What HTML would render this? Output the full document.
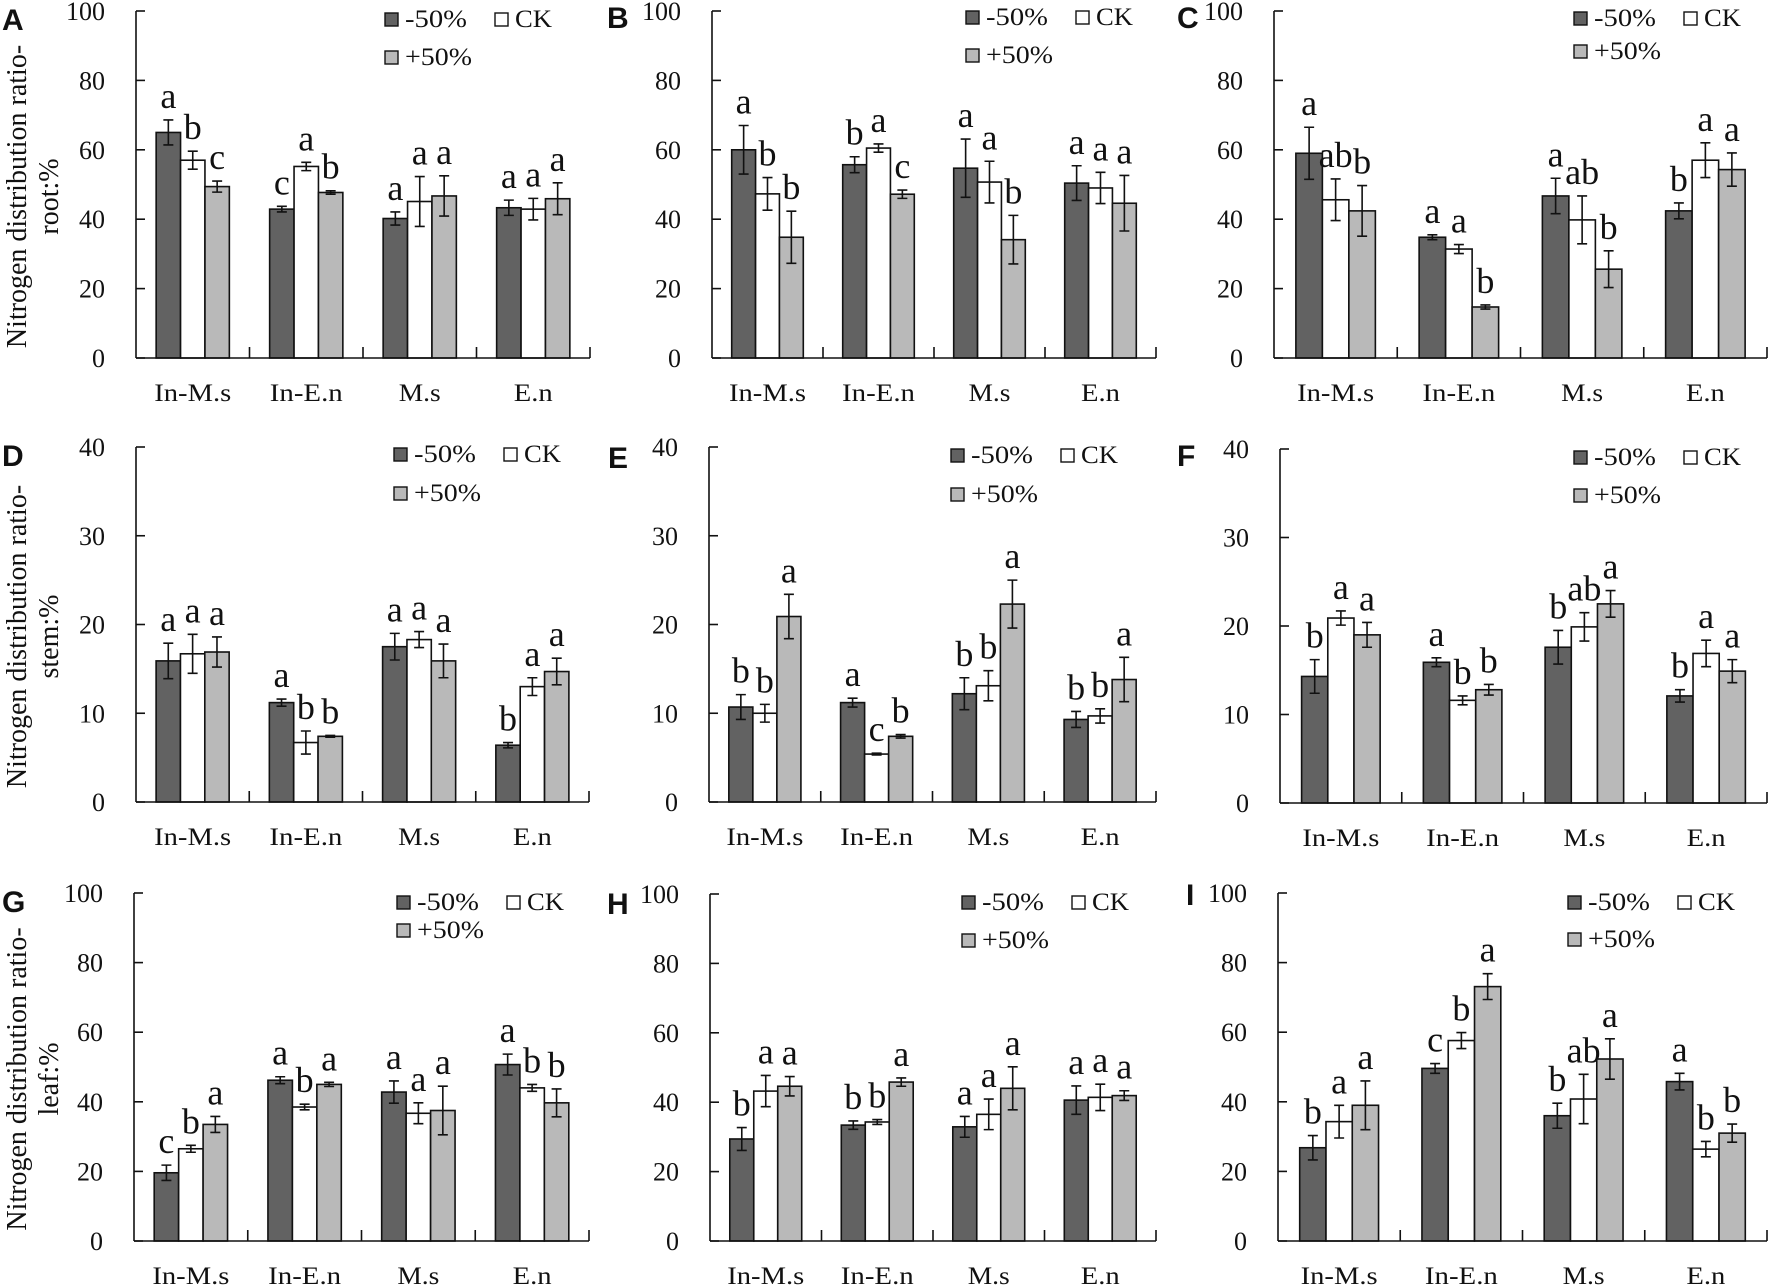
<!DOCTYPE html>
<html><head><meta charset="utf-8"><style>
html,body{margin:0;padding:0;background:#fff;}
svg{display:block;}
text{font-family:"Liberation Serif",serif;fill:#111;}
.pl{font-family:"Liberation Sans",sans-serif;font-weight:bold;}
</style></head><body>
<svg id="fig" xmlns="http://www.w3.org/2000/svg" width="1772" height="1288" viewBox="0 0 1772 1288"></svg>
<script>
const categories = ["In-M.s","In-E.n","M.s","E.n"];
const seriesNames = ["-50%","CK","+50%"];
// values per panel: [series][category]
const valA = [[65,42.9,40.2,43.3],[57,55.2,45.1,42.9],[49.4,47.7,46.7,45.9]];
const errA = [[3.6,0.8,1.9,2.2],[2.6,1.2,7.2,3.1],[1.6,0.5,5.8,4.6]];
const letA = [["a","c","a","a"],["b","a","a","a"],["c","b","a","a"]];
const valB = [[60,55.7,54.7,50.4],[47.3,60.5,50.7,49],[34.8,47.2,34.1,44.6]];
const errB = [[7,2.3,8.4,5],[4.7,1.2,6,4.5],[7.5,1.2,7,8]];
const letB = [["a","b","a","a"],["b","a","a","a"],["b","c","b","a"]];
const valC = [[59,34.8,46.7,42.4],[45.6,31.4,39.8,57],[42.4,14.7,25.6,54.3]];
const errC = [[7.5,0.7,5.1,2.3],[6,1.3,6.9,5],[7.3,0.6,5.3,4.8]];
const letC = [["a","a","a","b"],["ab","a","ab","a"],["b","b","b","a"]];
const valD = [[15.9,11.2,17.5,6.4],[16.7,6.7,18.3,13],[16.9,7.4,15.9,14.7]];
const errD = [[2,0.4,1.5,0.3],[2.2,1.3,0.9,1],[1.7,0.1,1.9,1.5]];
const letD = [["a","a","a","b"],["a","b","a","a"],["a","b","a","a"]];
const valE = [[10.7,11.2,12.2,9.3],[10,5.4,13.1,9.7],[20.9,7.4,22.3,13.8]];
const errE = [[1.4,0.5,1.8,0.9],[1,0.1,1.7,0.8],[2.5,0.2,2.7,2.5]];
const letE = [["b","a","b","b"],["b","c","b","b"],["a","b","a","a"]];
const valF = [[14.3,15.9,17.6,12.1],[20.9,11.6,19.9,16.9],[19,12.8,22.5,14.9]];
const errF = [[1.9,0.5,1.9,0.7],[0.8,0.5,1.6,1.5],[1.4,0.6,1.5,1.3]];
const letF = [["b","a","b","b"],["a","b","ab","a"],["a","b","a","a"]];
const valG = [[19.6,46.2,42.8,50.7],[26.5,38.5,36.7,44],[33.5,45,37.5,39.7]];
const errG = [[2.2,1,3.2,3],[1,0.8,3,1],[2.3,0.6,7,4]];
const letG = [["c","a","a","a"],["b","b","a","b"],["a","a","a","b"]];
const valH = [[29.4,33.4,32.9,40.6],[43.2,34.3,36.5,41.4],[44.6,45.8,44,41.9]];
const errH = [[3.3,1.2,3,4.1],[4.5,0.7,4.4,3.8],[2.8,1.2,6.2,1.4]];
const letH = [["b","b","a","a"],["a","b","a","a"],["a","a","a","a"]];
const valI = [[26.8,49.6,36,45.8],[34.3,57.6,40.8,26.4],[39,73.1,52.3,31]];
const errI = [[3.5,1.4,3.6,2.4],[4.7,2.3,7.1,2.2],[7,3.7,5.8,2.6]];
const letI = [["b","c","b","a"],["a","b","ab","b"],["a","a","a","b"]];
const ticks100 = [0,20,40,60,80,100];
const ticks40 = [0,10,20,30,40];

const NS="http://www.w3.org/2000/svg";
const svg=document.getElementById('fig');
function mk(tag,attrs,parent,txt){const e=document.createElementNS(NS,tag);for(const k in attrs)e.setAttribute(k,attrs[k]);if(txt!==undefined)e.textContent=txt;(parent||svg).appendChild(e);return e;}
const fills=["#626262","#ffffff","#b9b9b9"];
const catW={"In-M.s":77,"In-E.n":73,"M.s":42,"E.n":39};

const panels=[
 {id:"A",v:valA,e:errA,l:letA,t:ticks100,ax:136,xe:590,yt:11,y0:358,lx:385,ly:[12,50],px:2,py:30,title:"root:%"},
 {id:"B",v:valB,e:errB,l:letB,t:ticks100,ax:712,xe:1156,yt:11,y0:358,lx:966,ly:[10,48],px:607,py:28},
 {id:"C",v:valC,e:errC,l:letC,t:ticks100,ax:1274,xe:1767,yt:11,y0:358,lx:1574,ly:[11,44],px:1177,py:28},
 {id:"D",v:valD,e:errD,l:letD,t:ticks40,ax:136,xe:589,yt:447,y0:802,lx:394,ly:[447,486],px:2,py:466,title:"stem:%"},
 {id:"E",v:valE,e:errE,l:letE,t:ticks40,ax:709,xe:1156,yt:447,y0:802,lx:951,ly:[448,487],px:608,py:468},
 {id:"F",v:valF,e:errF,l:letF,t:ticks40,ax:1280,xe:1767,yt:449,y0:803,lx:1574,ly:[450,488],px:1177,py:466},
 {id:"G",v:valG,e:errG,l:letG,t:ticks100,ax:134,xe:589,yt:893,y0:1241,lx:397,ly:[895,923],px:2,py:912,title:"leaf:%"},
 {id:"H",v:valH,e:errH,l:letH,t:ticks100,ax:710,xe:1156,yt:894,y0:1241,lx:962,ly:[895,933],px:607,py:914},
 {id:"I",v:valI,e:errI,l:letI,t:ticks100,ax:1278,xe:1767,yt:893,y0:1241,lx:1568,ly:[895,932],px:1186,py:905}
];

panels.forEach(p=>{
  const g=mk('g',{});
  
  
  const tmax=p.t[p.t.length-1];
  const yS=v=>p.y0-(v/tmax)*(p.y0-p.yt);
  const gw=(p.xe-p.ax)/categories.length;
  const bw=gw*0.215;
  const xC=i=>p.ax+(i+0.5)*gw;
  const pl=mk('text',{x:p.px,y:p.py,class:'pl','font-size':30},g,p.id);
  
  
  if(p.title){
    const cy=(p.yt+p.y0)/2+12;
    const t1=mk('text',{x:0,y:0,'font-size':28,'text-anchor':'middle',transform:`translate(26,${cy}) rotate(-90)`},g,"Nitrogen distribution ratio-");
    
    
    const t2=mk('text',{x:0,y:0,'font-size':28,'text-anchor':'middle',transform:`translate(58,${cy}) rotate(-90)`},g,p.title);
    
    
  }
  p.v.forEach((ser,s)=>{
    ser.forEach((val,i)=>{
      const x=xC(i)-1.5*bw+s*bw;
      const r=mk('rect',{x:x,y:yS(val),width:bw,height:p.y0-yS(val),fill:fills[s],stroke:'#111','stroke-width':1.6},g);
      
      
      const cx=x+bw/2, er=p.e[s][i];
      const yT=yS(val+er), yB=yS(val-er);
      const eb=mk('path',{d:`M${cx},${yT}V${yB}M${cx-5},${yT}H${cx+5}M${cx-5},${yB}H${cx+5}`,stroke:'#111','stroke-width':1.6,fill:'none'},g);
      
      
      const lt=mk('text',{x:cx,y:yT-12,'font-size':36,'text-anchor':'middle'},g,p.l[s][i]);
      
      
    });
  });
  const ya=mk('line',{x1:p.ax,y1:p.yt,x2:p.ax,y2:p.y0,stroke:'#111','stroke-width':1.6},g);
  
  
  const xa=mk('line',{x1:p.ax,y1:p.y0,x2:p.xe,y2:p.y0,stroke:'#111','stroke-width':1.6},g);
  
  
  p.t.forEach(t=>{
    const y=yS(t);
    mk('line',{x1:p.ax,y1:y,x2:p.ax+9,y2:y,stroke:'#111','stroke-width':1.6},g);
    const tl=mk('text',{x:p.ax-31,y:y+9,'font-size':26,'text-anchor':'end'},g,String(t));
    
    
  });
  for(let i=1;i<=categories.length;i++){
    const x=p.ax+i*gw;
    mk('line',{x1:x,y1:p.y0,x2:x,y2:p.y0-11,stroke:'#111','stroke-width':1.6},g);
  }
  categories.forEach((c,i)=>{
    const cl=mk('text',{x:xC(i),y:p.y0+43,'font-size':25,'text-anchor':'middle',textLength:catW[c],lengthAdjust:'spacingAndGlyphs'},g,c);
    
    
  });
  const lg=mk('g',{},g);
  
  
  const pos=[[p.lx,p.ly[0]],[p.lx+110,p.ly[0]],[p.lx,p.ly[1]]];
  const lw=[62,37,67];
  seriesNames.forEach((n,s)=>{
    const [x,y]=pos[s];
    mk('rect',{x:x,y:y+1,width:13,height:13,fill:fills[s],stroke:'#111','stroke-width':1.4},lg);
    const lt=mk('text',{x:x+20,y:y+15,'font-size':25,textLength:lw[s],lengthAdjust:'spacingAndGlyphs'},lg,n);
    
    
  });
});
</script>
</body></html>
